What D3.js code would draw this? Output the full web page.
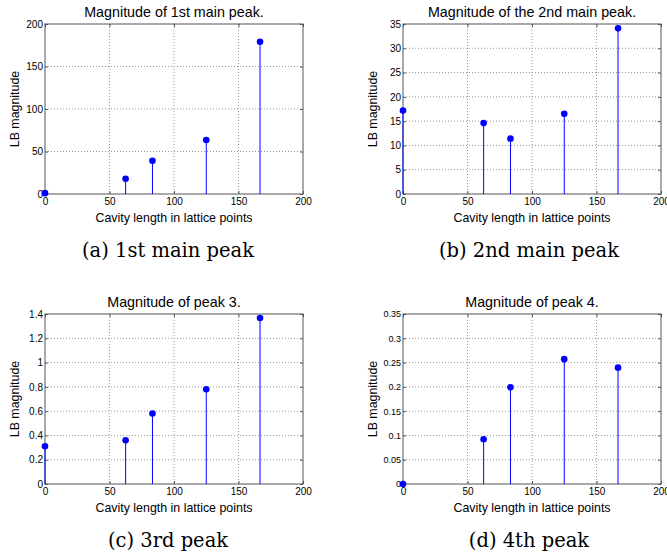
<!DOCTYPE html>
<html>
<head>
<meta charset="utf-8">
<script src="https://cdn.jsdelivr.net/npm/d3@7"></script>
<style>
  body { margin: 0; background: #fff; }
  svg { display: block; }
  .tick text { font-family: "Liberation Sans", Arial, sans-serif; fill: #000; }
  .title, .xlabel, .ylabel { font-family: "Liberation Sans", Arial, sans-serif; fill: #000; }
  .caption { font-family: "DejaVu Serif", "Liberation Serif", serif; fill: #000; }
</style>
</head>
<body>
<svg width="667" height="557"></svg>
<script>
// データ
const cavityLength = [0, 62.5, 83.3, 125, 166.7];
const peak1 = [1, 18, 39.2, 63.5, 179.2];
const peak2 = [17.2, 14.6, 11.4, 16.5, 34.1];
const peak3 = [0.31, 0.36, 0.58, 0.78, 1.367];
const peak4 = [0, 0.092, 0.199, 0.257, 0.2395];

const titles = ["Magnitude of 1st main peak.", "Magnitude of the 2nd main peak.", "Magnitude of peak 3.", "Magnitude of peak 4."];
const captions = ["(a) 1st main peak", "(b) 2nd main peak", "(c) 3rd peak", "(d) 4th peak"];
const xTicks = [0, 50, 100, 150, 200];
const yTicks1 = [0, 50, 100, 150, 200];
const yTicks2 = [0, 5, 10, 15, 20, 25, 30, 35];
const yTicks3 = [0, 0.2, 0.4, 0.6, 0.8, 1, 1.2, 1.4];
const yTicks4 = [0, 0.05, 0.1, 0.15, 0.2, 0.25, 0.3, 0.35];

const svg = d3.select("svg");

// パネルの配置
const panels = [
  { values: peak1, yTicks: yTicks1, left: 45, top: 24, yFont: 10, capShift: -6 },
  { values: peak2, yTicks: yTicks2, left: 403, top: 24, yFont: 10, capShift: -3 },
  { values: peak3, yTicks: yTicks3, left: 45, top: 314, yFont: 10, capShift: -6 },
  { values: peak4, yTicks: yTicks4, left: 403, top: 314, yFont: 9, capShift: -3 }
];
const w = 258, h = 170;
const axisColor = "#555";

panels.forEach((p, i) => {
  const g = svg.append("g").attr("transform", `translate(${p.left},${p.top})`);
  const x = d3.scaleLinear().domain([0, 200]).range([0, w]);
  const y = d3.scaleLinear().domain([0, d3.max(p.yTicks)]).range([h, 0]);

  // グリッド
  g.append("g").selectAll("line")
    .data(xTicks.slice(1, -1))
    .enter().append("line")
    .attr("x1", d => x(d)).attr("x2", d => x(d))
    .attr("y1", 0).attr("y2", h)
    .attr("stroke", "#999").attr("stroke-dasharray", "1,2");
  g.append("g").selectAll("line")
    .data(p.yTicks.slice(1, -1))
    .enter().append("line")
    .attr("y1", d => y(d)).attr("y2", d => y(d))
    .attr("x1", 0).attr("x2", w)
    .attr("stroke", "#999").attr("stroke-dasharray", "1,2");

  // 軸
  const xAxis = g.append("g").attr("transform", `translate(0,${h})`)
    .call(d3.axisBottom(x).tickValues(xTicks).tickSize(-3).tickPadding(4).tickFormat(d3.format("d")));
  xAxis.selectAll("text").style("font-size", "10px");
  const yAxis = g.append("g")
    .call(d3.axisLeft(y).tickValues(p.yTicks).tickSize(-3).tickPadding(2).tickFormat(d => String(+d.toFixed(2))));
  yAxis.selectAll("text").style("font-size", p.yFont + "px");
  g.append("g").attr("transform", `translate(${w},0)`)
    .call(d3.axisRight(y).tickValues(p.yTicks).tickSize(-3).tickFormat(""));
  g.append("g")
    .call(d3.axisTop(x).tickValues(xTicks).tickSize(-3).tickFormat(""));
  g.selectAll(".domain").remove();
  g.selectAll(".tick line").attr("stroke", axisColor);
  g.append("rect").attr("width", w).attr("height", h)
    .attr("fill", "none").attr("stroke", axisColor);

  // ステム
  g.selectAll(".stem")
    .data(p.values)
    .enter().append("line")
    .attr("class", "stem")
    .attr("x1", (d, j) => x(cavityLength[j])).attr("x2", (d, j) => x(cavityLength[j]))
    .attr("y1", y(0)).attr("y2", d => y(d))
    .attr("stroke", "#0000ff").attr("stroke-width", 1);
  g.selectAll(".dot")
    .data(p.values)
    .enter().append("circle")
    .attr("class", "dot")
    .attr("cx", (d, j) => x(cavityLength[j]))
    .attr("cy", d => y(d))
    .attr("r", 3.3)
    .attr("fill", "#0000ff");

  // ラベル
  g.append("text").attr("class", "title")
    .attr("x", w / 2).attr("y", -7)
    .attr("text-anchor", "middle").style("font-size", "14.3px")
    .text(titles[i]);
  g.append("text").attr("class", "xlabel")
    .attr("x", w / 2).attr("y", h + 28)
    .attr("text-anchor", "middle").style("font-size", "12.4px")
    .text("Cavity length in lattice points");
  g.append("text").attr("class", "ylabel")
    .attr("transform", `translate(-26,${h / 2}) rotate(-90)`)
    .attr("text-anchor", "middle").style("font-size", "12.4px")
    .text("LB magnitude");
  g.append("text").attr("class", "caption")
    .attr("x", w / 2 + p.capShift).attr("y", h + 63)
    .attr("text-anchor", "middle").style("font-size", "19.5px")
    .text(captions[i]);
});
</script>
</body>
</html>
